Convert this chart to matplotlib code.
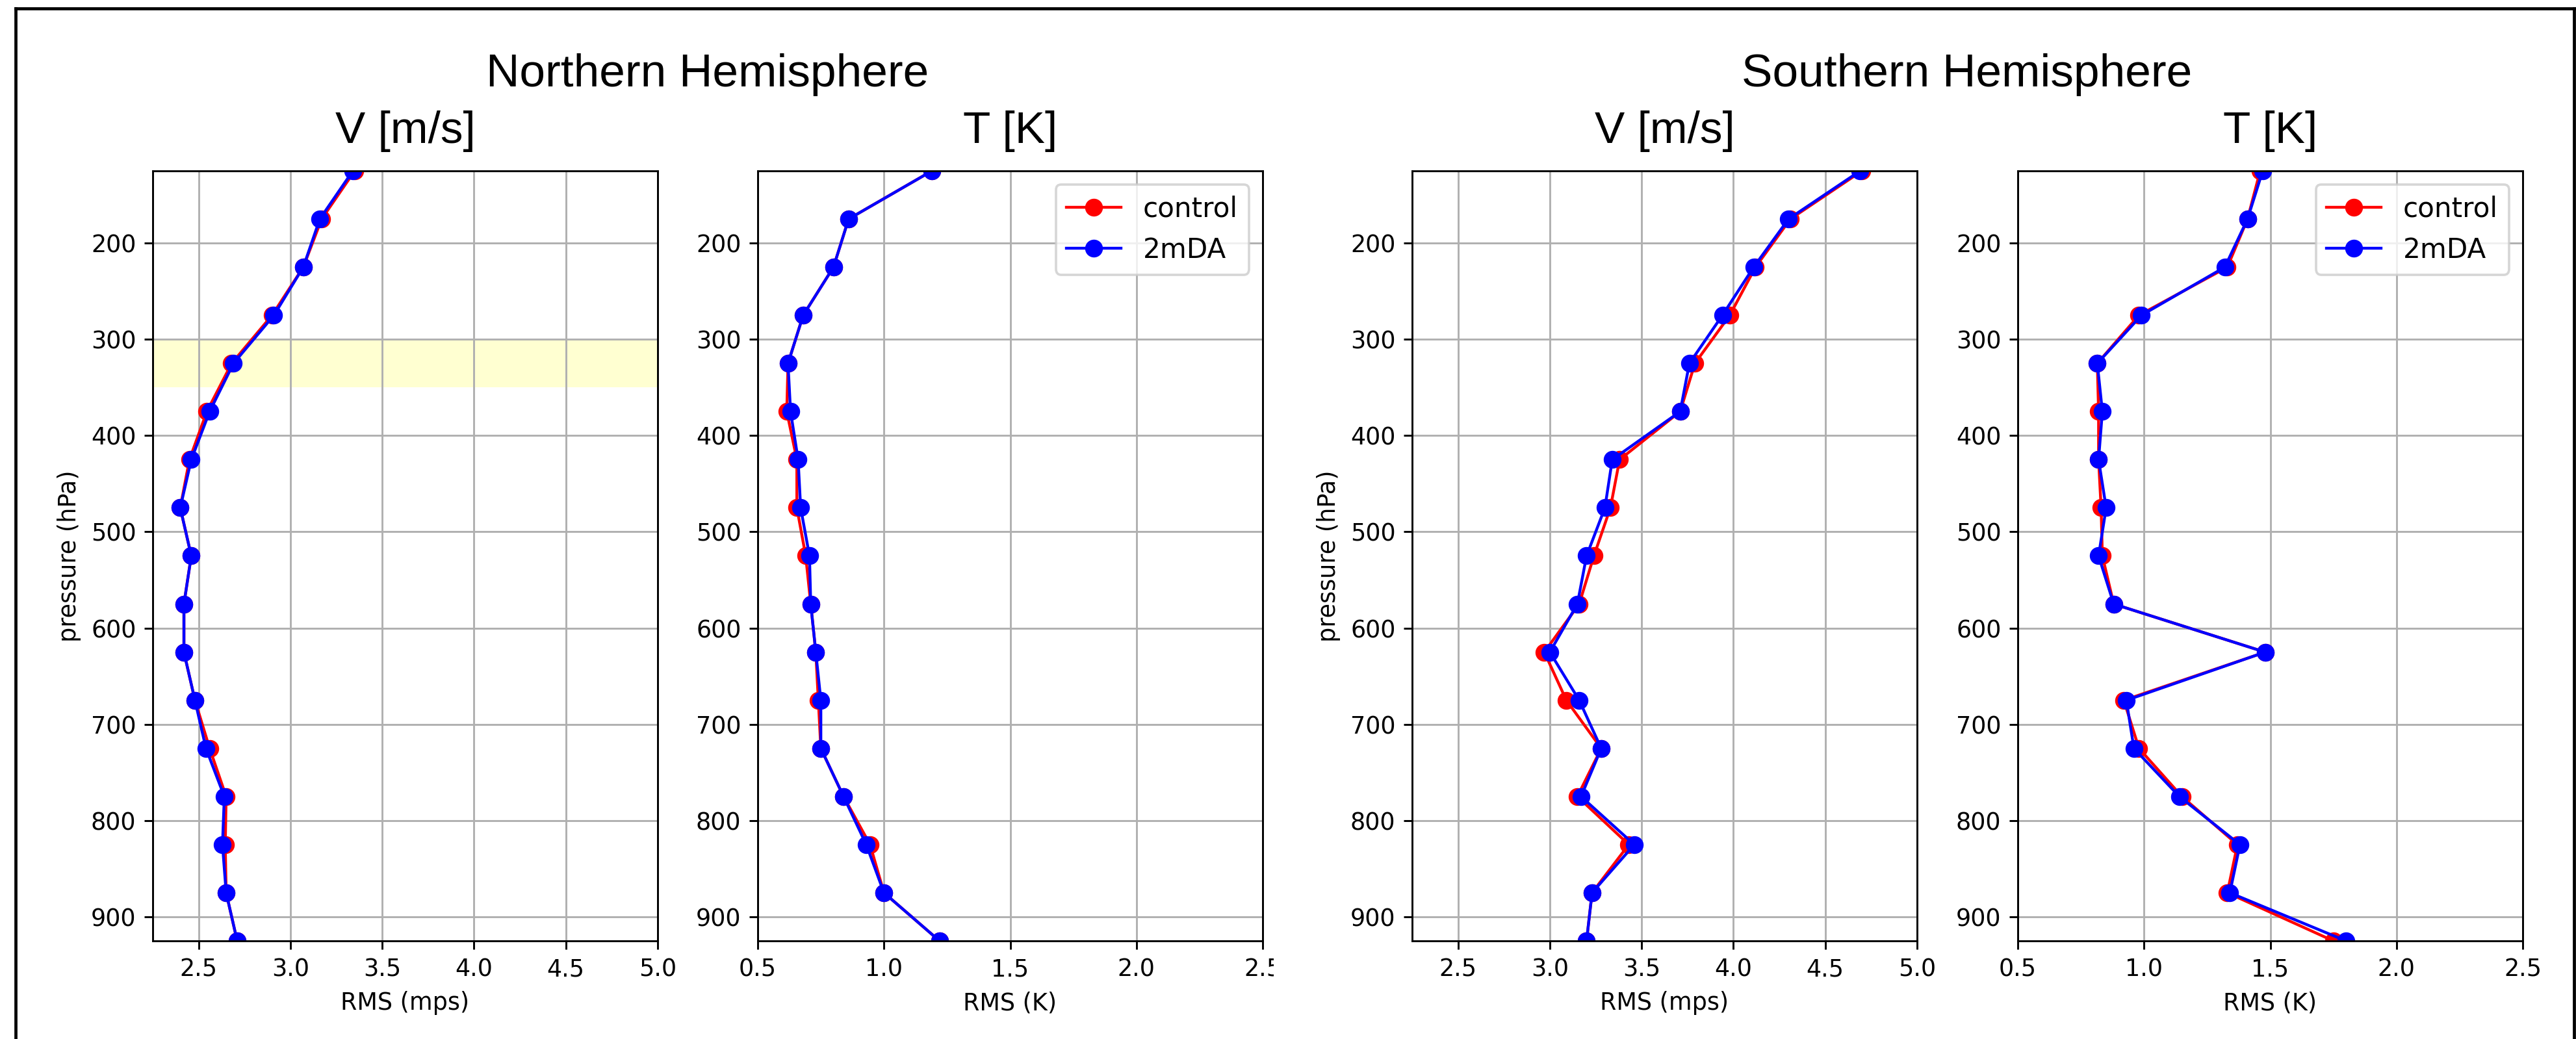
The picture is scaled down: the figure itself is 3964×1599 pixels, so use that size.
import matplotlib
matplotlib.use("Agg")
import matplotlib.pyplot as plt
from matplotlib.lines import Line2D
from matplotlib.transforms import Bbox, TransformedBbox

# pressure levels (hPa)
levels = [125, 175, 225, 275, 325, 375, 425, 475, 525, 575, 625, 675, 725, 775, 825, 875, 925]

# Northern Hemisphere
nh_v_control = [3.35, 3.17, 3.07, 2.90, 2.68, 2.545, 2.45, 2.40, 2.46, 2.42, 2.42, 2.48, 2.56, 2.65, 2.645, 2.65, 2.71]
nh_v_2mda = [3.34, 3.16, 3.07, 2.91, 2.69, 2.56, 2.46, 2.40, 2.46, 2.42, 2.42, 2.48, 2.54, 2.64, 2.63, 2.65, 2.71]
nh_t_control = [1.19, 0.86, 0.80, 0.68, 0.62, 0.615, 0.655, 0.655, 0.69, 0.71, 0.73, 0.74, 0.75, 0.84, 0.945, 1.00, 1.22]
nh_t_2mda = [1.19, 0.86, 0.80, 0.68, 0.62, 0.63, 0.66, 0.67, 0.705, 0.71, 0.73, 0.75, 0.75, 0.84, 0.93, 1.00, 1.22]

# Southern Hemisphere
sh_v_control = [4.70, 4.31, 4.12, 3.98, 3.79, 3.71, 3.38, 3.33, 3.24, 3.16, 2.97, 3.09, 3.28, 3.15, 3.43, 3.23, 3.20]
sh_v_2mda = [4.69, 4.30, 4.11, 3.94, 3.76, 3.71, 3.34, 3.30, 3.20, 3.15, 3.00, 3.16, 3.28, 3.17, 3.46, 3.23, 3.20]
sh_t_control = [1.46, 1.41, 1.33, 0.98, 0.815, 0.82, 0.82, 0.83, 0.835, 0.88, 1.48, 0.92, 0.98, 1.15, 1.37, 1.33, 1.75]
sh_t_2mda = [1.47, 1.41, 1.32, 0.99, 0.815, 0.835, 0.82, 0.85, 0.82, 0.88, 1.48, 0.93, 0.96, 1.14, 1.38, 1.34, 1.80]

W, H = 3964, 1599
DPI = 263
fig = plt.figure(figsize=((W + 0.01) / DPI, (H + 0.01) / DPI), dpi=DPI)

title_font = ["Liberation Sans", "DejaVu Sans"]

# axes boxes in pixels
ax_top, ax_bot = 263, 1448
lefts = [235, 1166, 2173, 3105]
width = 777

panels = [
    (nh_v_control, nh_v_2mda, "V [m/s]", "RMS (mps)", (2.25, 5.0), True, False),
    (nh_t_control, nh_t_2mda, "T [K]", "RMS (K)", (0.5, 2.5), False, True),
    (sh_v_control, sh_v_2mda, "V [m/s]", "RMS (mps)", (2.25, 5.0), True, False),
    (sh_t_control, sh_t_2mda, "T [K]", "RMS (K)", (0.5, 2.5), False, True),
]

axes = []
for left, (ctl, exp, title, xlab, xlim, ylab, leg) in zip(lefts, panels):
    ax = fig.add_axes([left / W, 1 - ax_bot / H, width / W, (ax_bot - ax_top) / H])
    ax.plot(ctl, levels, "o-", color="red", lw=1.2, ms=6.5, label="control")
    ax.plot(exp, levels, "o-", color="blue", lw=1.2, ms=6.5, label="2mDA")
    ax.set_xlim(*xlim)
    ax.set_ylim(925, 125)
    ax.set_yticks([200, 300, 400, 500, 600, 700, 800, 900])
    ax.grid(True)
    ax.set_xlabel(xlab)
    if ylab:
        ax.set_ylabel("pressure (hPa)")
    if leg:
        ax.legend(loc="upper right", fontsize=11.5)
    ax.set_title(title, fontsize=19, family=title_font, pad=11.8)
    axes.append(ax)

# highlighted layer in NH wind panel
axes[0].axhspan(300, 350, color="yellow", alpha=0.18, lw=0, zorder=0.5)

# NH T panel: last tick label cut off at the edge of the original figure
axes[1].set_xticks([0.5, 1.0, 1.5, 2.0, 2.5])
clip = TransformedBbox(Bbox.from_extents(0, 0, 1960 / W, 1), fig.transFigure)
for t in axes[1].xaxis.get_major_ticks():
    t.label1.set_clip_box(clip)
    t.label1.set_clip_on(True)

# hemisphere headings
fig.text(1089 / W, 1 - 133 / H, "Northern Hemisphere", ha="center", va="baseline",
         fontsize=19.5, family=title_font)
fig.text(3027 / W, 1 - 133 / H, "Southern Hemisphere", ha="center", va="baseline",
         fontsize=19.5, family=title_font)

# frame of the slide
lw = 1.3
fig.add_artist(Line2D([24 / W, 1], [1 - 13.5 / H, 1 - 13.5 / H], color="black", lw=lw, transform=fig.transFigure))
fig.add_artist(Line2D([24 / W, 24 / W], [0, 1 - 13.5 / H], color="black", lw=lw, transform=fig.transFigure))
fig.add_artist(Line2D([3961 / W, 3961 / W], [0, 1 - 13.5 / H], color="black", lw=lw, transform=fig.transFigure))

fig.savefig("out.png", dpi=DPI)
